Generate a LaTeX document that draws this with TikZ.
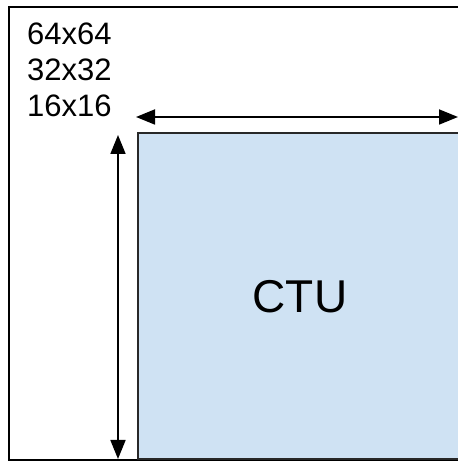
\documentclass[tikz,border=0pt]{standalone}
\usepackage{fontspec}
\setmainfont{Liberation Sans}
\usetikzlibrary{arrows.meta}
\definecolor{ctublue}{RGB}{207,226,243}
\definecolor{edgegray}{RGB}{40,40,40}
\tikzset{
  frame/.style={draw=black, line width=2pt},
  block/.style={draw=edgegray, line width=2pt, fill=ctublue, inner sep=0pt},
  dim/.style={draw=black, line width=1.8pt, {Triangle[length=19pt,width=15pt]}-{Triangle[length=19pt,width=15pt]}},
  sizes/.style={anchor=base west, inner sep=0pt, font=\fontsize{31}{36}\selectfont, text=black},
}
\begin{document}
\begin{tikzpicture}[x=1pt,y=1pt]
  \useasboundingbox (0,0) rectangle (457,462);
  % outer frame
  \draw[frame] (9,2) rectangle (470,455);
  % coding tree unit block
  \node[block, anchor=south west, minimum width=330pt, minimum height=326pt] (ctu) at (137,2) {};
  \node[anchor=base, inner sep=0pt, font=\fontsize{46}{46}\selectfont] (lbl) at (300,149) {CTU};
  % block sizes
  \node[sizes] (s64) at (27,417) {64x64};
  \node[sizes] (s32) at (27,381) {32x32};
  \node[sizes] (s16) at (27,345) {16x16};
  % dimension arrows
  \coordinate (hl) at (136,345);
  \coordinate (hr) at (458,345);
  \coordinate (vt) at (118,327);
  \coordinate (vb) at (118,3);
  \draw[dim] (hl) -- (hr);
  \draw[dim] (vt) -- (vb);
\end{tikzpicture}
\end{document}
